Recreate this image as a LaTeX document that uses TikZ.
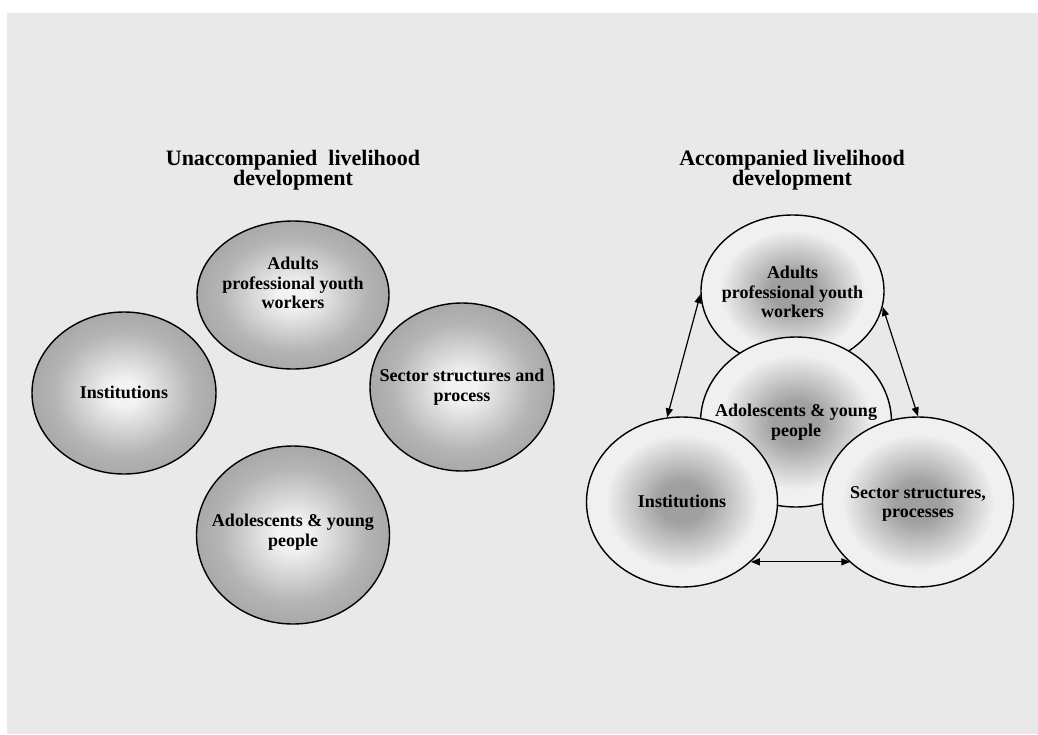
\documentclass[tikz,border=0pt]{standalone}
\usepackage{fontspec}
\setmainfont{Liberation Serif}
\usetikzlibrary{arrows.meta,shapes.geometric}
\definecolor{bg}{HTML}{E9E9E9}
\definecolor{lc}{HTML}{F3F3F3}
\definecolor{lo}{HTML}{A9A9A9}
\definecolor{rc}{HTML}{A0A0A0}
\definecolor{ro}{HTML}{F0F0F0}
\pgfdeclareradialshading{leftball}{\pgfpoint{0bp}{0bp}}{color(0bp)=(lc); color(4bp)=(lc); color(19bp)=(lo!85!lc); color(25bp)=(lo); color(50bp)=(lo)}
\pgfdeclareradialshading{rightball}{\pgfpoint{0bp}{0bp}}{color(0bp)=(rc); color(6bp)=(rc); color(20bp)=(ro); color(25bp)=(ro); color(50bp)=(ro)}
\tikzset{
  lball/.style={ellipse, draw=black, line width=1.4pt, inner sep=0pt, shading=leftball},
  rball/.style={ellipse, draw=black, line width=1.4pt, inner sep=0pt, shading=rightball},
  lbl/.style={align=center, font=\fontsize{18}{19.5}\selectfont\bfseries, inner sep=0pt},
  ttl/.style={align=center, font=\fontsize{22}{20}\selectfont\bfseries, inner sep=0pt},
  dbl/.style={line width=1.2pt, {Triangle[length=9pt,width=7pt]}-{Triangle[length=9pt,width=7pt]}}
}
\begin{document}
\begin{tikzpicture}[x=1pt,y=-1pt]
\useasboundingbox (0,0) rectangle (1038,734);
\fill[white] (0,0) rectangle (1038,734);
\fill[bg] (7,13) rectangle (1038,734);
% Left diagram
\node[ttl] (t1) at (293,170) {Unaccompanied\ \ livelihood\\development};
\node[lball, minimum width=192pt, minimum height=148pt] (la) at (293,295) {};
\node[lball, minimum width=184pt, minimum height=162pt] (li) at (124,393) {};
\node[lball, minimum width=184pt, minimum height=168pt] (ls) at (462,387) {};
\node[lball, minimum width=193pt, minimum height=178pt] (ly) at (293,535) {};
\node[lbl] (lat) at (293,283) {Adults\\professional youth\\workers};
\node[lbl] (lit) at (124,392) {Institutions};
\node[lbl] (lst) at (462,387) {Sector structures and\\process};
\node[lbl] (lyt) at (293,532) {Adolescents \& young\\people};
% Right diagram
\node[ttl] (t2) at (792,170) {Accompanied livelihood\\development};
\node[rball, minimum width=183pt, minimum height=152pt] (ra) at (792.5,291) {};
\node[rball, minimum width=191pt, minimum height=170pt] (ry) at (796,422) {};
\node[rball, minimum width=191pt, minimum height=170pt] (ri) at (682,502) {};
\node[rball, minimum width=191pt, minimum height=170pt] (rs) at (918,502) {};
\node[lbl] (rat) at (792.5,292) {Adults\\professional youth\\workers};
\node[lbl] (ryt) at (796,422) {Adolescents \& young\\people};
\node[lbl] (rit) at (682,501) {Institutions};
\node[lbl] (rst) at (918,504) {Sector structures,\\processes};
\draw[dbl] (ra.182.5) -- (ri.100);
\draw[dbl] (ra.-10) -- (rs.90.7);
\draw[dbl] (ri.-41.5) -- (ri.-41.5 -| rs.-138.5);
\end{tikzpicture}
\end{document}
